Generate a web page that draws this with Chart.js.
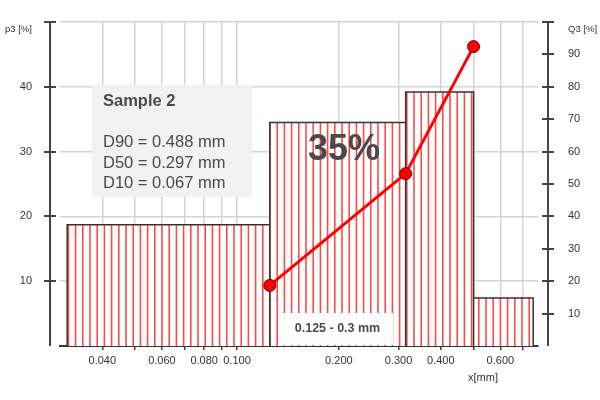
<!DOCTYPE html>
<html>
<head>
<meta charset="utf-8">
<script src="https://cdn.jsdelivr.net/npm/chart.js@4.4.0/dist/chart.umd.min.js"></script>
<style>
  html, body { margin: 0; padding: 0; background: #fff; }
  #wrap { width: 600px; height: 400px; }
</style>
</head>
<body>
<div id="wrap"><canvas id="psd-chart" width="600" height="400"></canvas></div>
<script>
// sieve classes [mm] and the fractions
const binEdges = [0.0315, 0.125, 0.315, 0.5, 0.75];
const p3Values = [18.7, 34.5, 39.2, 7.4];      // density per class, left axis [%]
const q3Sizes = [0.125, 0.315, 0.5];
const q3Values = [18.7, 53.2, 92.4];            // cumulative, right axis [%]

const xTickValues = [0.04, 0.05, 0.06, 0.07, 0.08, 0.09, 0.1, 0.2, 0.3, 0.4, 0.5, 0.6, 0.7];
const xTickLabels = ['0.040', '', '0.060', '', '0.080', '', '0.100', '0.200', '0.300', '0.400', '', '0.600', ''];

const sampleName = 'Sample 2';
const statLines = ['D90 = 0.488 mm', 'D50 = 0.297 mm', 'D10 = 0.067 mm'];
const highlightText = '35%';
const rangeText = '0.125 - 0.3 mm';

const FONT = "'Liberation Sans', Arial, sans-serif";

const ctx = document.getElementById('psd-chart').getContext('2d');

// white fill with thin red vertical lines, like the original hatching
function makeHatch(context) {
  const c = document.createElement('canvas');
  c.width = 36;
  c.height = 4;
  const g = c.getContext('2d');
  g.fillStyle = '#ffffff';
  g.fillRect(0, 0, 36, 4);
  g.strokeStyle = '#ff4a4a';
  g.lineWidth = 1.6;
  for (let k = 0; k < 5; k++) {
    const x = 3.6 + k * 7.2;
    g.beginPath();
    g.moveTo(x, 0);
    g.lineTo(x, 4);
    g.stroke();
  }
  return context.createPattern(c, 'repeat');
}

// outline of the histogram: every class is a closed box down to zero
const histPoints = [];
p3Values.forEach((v, i) => {
  histPoints.push(
    { x: binEdges[i], y: 0 },
    { x: binEdges[i], y: v },
    { x: binEdges[i + 1], y: v },
    { x: binEdges[i + 1], y: 0 }
  );
});
const q3Points = q3Sizes.map((s, i) => ({ x: s, y: q3Values[i] }));

// the y axes sit a little outside the plot, ticks crossing the line
const sideAxes = {
  id: 'sideAxes',
  afterDraw(chart) {
    const { ctx, chartArea } = chart;
    ctx.save();
    ctx.strokeStyle = '#444';
    ctx.lineWidth = 2;
    [['y', chartArea.left - 10], ['y2', chartArea.right + 10]].forEach(([id, x]) => {
      const s = chart.scales[id];
      ctx.beginPath();
      ctx.moveTo(x, s.getPixelForValue(s.min));
      ctx.lineTo(x, s.getPixelForValue(s.max) - 1);
      s.ticks.forEach(t => {
        if (t.value === 0) return;
        const y = Math.round(s.getPixelForValue(t.value));
        ctx.moveTo(x - 6, y);
        ctx.lineTo(x + 6, y);
      });
      ctx.stroke();
    });

    ctx.fillStyle = '#333';
    ctx.textBaseline = 'middle';
    ctx.font = '9.5px ' + FONT;
    ctx.textAlign = 'left';
    ctx.fillText('p3 [%]', 5, 29);
    ctx.fillText('Q3 [%]', chartArea.right + 30, 29);
    ctx.font = '11px ' + FONT;
    ctx.textAlign = 'center';
    ctx.fillText('x[mm]', 483, 378);
    ctx.restore();
  }
};

// text boxes on the plot
const notes = {
  id: 'notes',
  afterDatasetsDraw(chart) {
    const { ctx } = chart;
    ctx.save();
    ctx.fillStyle = '#f2f2f2';
    ctx.fillRect(92, 85, 160, 112);

    ctx.fillStyle = '#4a4a4a';
    ctx.textAlign = 'left';
    ctx.textBaseline = 'alphabetic';
    ctx.font = 'bold 16.5px ' + FONT;
    ctx.fillText(sampleName, 103, 106);
    ctx.font = '16.5px ' + FONT;
    statLines.forEach((line, i) => ctx.fillText(line, 103, 147 + i * 20.7));

    ctx.font = 'bold 36px ' + FONT;
    ctx.textAlign = 'center';
    ctx.fillText(highlightText, 344, 160);

    ctx.fillStyle = '#ffffff';
    ctx.fillRect(282, 313, 111, 32);
    ctx.fillStyle = '#4a4a4a';
    ctx.font = 'bold 12.5px ' + FONT;
    ctx.textBaseline = 'middle';
    ctx.fillText(rangeText, 337.5, 329);
    ctx.restore();
  }
};

const chart = new Chart(ctx, {
  type: 'line',
  data: {
    datasets: [
      {
        label: 'Q3',
        data: q3Points,
        yAxisID: 'y2',
        order: 1,
        borderColor: '#ff0000',
        borderWidth: 3,
        tension: 0,
        pointRadius: 6,
        pointBackgroundColor: '#ff0000',
        pointBorderColor: '#6a0000',
        pointBorderWidth: 1,
        fill: false
      },
      {
        label: 'p3',
        data: histPoints,
        yAxisID: 'y',
        order: 2,
        borderColor: '#333',
        borderWidth: 1.5,
        backgroundColor: makeHatch(ctx),
        pointRadius: 0,
        tension: 0,
        fill: 'origin'
      }
    ]
  },
  options: {
    responsive: false,
    animation: false,
    layout: { padding: { top: 22, left: 0, right: 0, bottom: 0 } },
    plugins: {
      legend: { display: false },
      tooltip: { enabled: false }
    },
    scales: {
      x: {
        type: 'logarithmic',
        min: 0.03,
        max: 0.775,
        bounds: 'data',
        afterBuildTicks: s => { s.ticks = xTickValues.map(v => ({ value: v })); },
        afterFit: s => { s.height = 54; },
        ticks: {
          autoSkip: false,
          maxRotation: 0,
          padding: 4,
          color: '#333',
          font: { family: FONT, size: 11 },
          callback: v => xTickLabels[xTickValues.indexOf(v)]
        },
        grid: { color: '#d4d4d4', lineWidth: 1.5, tickColor: '#444', tickWidth: 1.5, tickLength: 4 },
        border: { color: '#333', width: 2 }
      },
      y: {
        position: 'left',
        min: 0,
        max: 50,
        afterFit: s => { s.width = 60; },
        ticks: {
          stepSize: 10,
          padding: 0,
          color: '#333',
          font: { family: FONT, size: 11 },
          callback: v => (v === 0 || v === 50) ? '' : v
        },
        // invisible tick marks only push the labels away from the plot
        grid: { color: '#d4d4d4', lineWidth: 1.5, tickLength: 28, tickColor: 'rgba(0,0,0,0)' },
        border: { display: false }
      },
      y2: {
        position: 'right',
        min: 0,
        max: 100,
        afterFit: s => { s.width = 62; },
        ticks: {
          stepSize: 10,
          padding: 0,
          color: '#333',
          font: { family: FONT, size: 11 },
          callback: v => (v === 0 || v === 100) ? '' : v
        },
        grid: { drawOnChartArea: false, tickLength: 30, tickColor: 'rgba(0,0,0,0)' },
        border: { display: false }
      }
    }
  },
  plugins: [sideAxes, notes]
});
</script>
</body>
</html>
